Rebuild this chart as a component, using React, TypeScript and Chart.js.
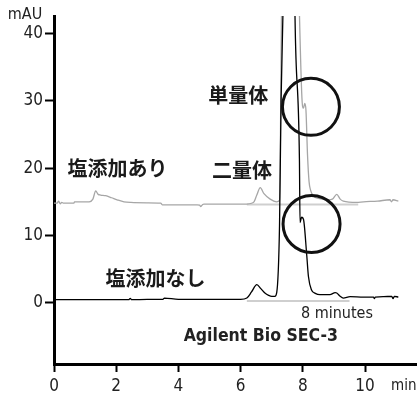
import React, { useEffect, useRef } from "react";
import { Chart, registerables } from "chart.js";

Chart.register(...registerables);

// Retention time (min) and absorbance (mAU) — with salt added (gray trace)
const saltTime = [0, 0.1, 0.15, 0.2, 0.25, 0.3, 0.64, 0.66, 1.13, 1.25, 1.34, 1.42, 1.5, 1.66, 1.85, 2.03, 2.25, 2.47, 3.0, 3.43, 3.48, 4.0, 4.6, 4.68, 4.72, 4.78, 4.82, 5.5, 6.1, 6.41, 6.52, 6.63, 6.75, 6.95, 7.16, 7.25, 7.32, 7.6, 7.88, 7.97, 8.02, 8.06, 8.1, 8.15, 8.2, 8.25, 8.35, 8.5, 8.82, 8.95, 9.09, 9.2, 9.3, 9.73, 9.95, 10.4, 10.8, 10.85, 10.9, 11.07];
const saltAbs = [14.8, 14.8, 15.1, 14.7, 14.9, 14.8, 14.8, 15.0, 15.0, 15.4, 16.6, 16.1, 16.0, 15.9, 15.6, 15.3, 15.0, 14.9, 14.85, 14.8, 14.55, 14.55, 14.55, 14.5, 14.3, 14.6, 14.65, 14.65, 14.65, 14.9, 16.0, 17.1, 16.2, 15.4, 15.0, 15.2, 45, 110, 45, 30.5, 28.9, 29.6, 28.6, 22, 18, 16.7, 15.8, 15.5, 15.3, 15.4, 16.1, 15.4, 15.1, 14.9, 15.0, 15.1, 15.3, 15.0, 15.3, 15.1];

// Without salt (black trace)
const noSaltTime = [0, 1.0, 2.0, 2.4, 2.45, 2.5, 3.0, 3.5, 3.55, 4.0, 5.0, 6.0, 6.2, 6.35, 6.52, 6.65, 6.78, 6.9, 7.0, 7.1, 7.16, 7.25, 7.3, 7.37, 7.6, 7.74, 7.89, 7.91, 7.96, 8.02, 8.12, 8.18, 8.28, 8.4, 8.55, 8.87, 9.04, 9.09, 9.2, 9.3, 9.52, 9.95, 10.27, 10.3, 10.33, 10.6, 10.86, 10.9, 10.94, 11.07];
const noSaltAbs = [0.45, 0.45, 0.45, 0.45, 0.65, 0.45, 0.5, 0.5, 0.7, 0.5, 0.5, 0.5, 0.7, 1.6, 2.7, 2.1, 1.45, 1.1, 0.95, 0.95, 1.5, 11.4, 30, 45, 120, 45, 21.4, 11.9, 12.7, 12.4, 7.4, 3.9, 1.9, 1.4, 1.2, 1.2, 1.5, 1.45, 0.95, 0.7, 0.9, 0.85, 0.85, 0.6, 0.85, 0.9, 0.95, 0.6, 0.95, 0.85];

// Integration baselines
const saltBaseTime = [6.2, 9.78];
const saltBaseAbs = [14.6, 14.6];
const noSaltBaseTime = [6.2, 9.5];
const noSaltBaseAbs = [0.25, 0.25];

// Axis ticks
const xTicks = [0, 2, 4, 6, 8, 10];
const yTicks = [0, 10, 20, 30, 40];

// Annotations: labels [text, time, mAU]
const jpLabels: [string, number, number][] = [
  ["単量体", 5.92, 30.8],
  ["二量体", 6.04, 19.6],
  ["塩添加あり", 2.04, 20.0],
  ["塩添加なし", 3.26, 3.6],
];
const circleCenters: [number, number][] = [
  [8.26, 29.1],
  [8.28, 11.7],
];
const subtitle = "8 minutes";
const columnName = "Agilent Bio SEC-3";
const yUnit = "mAU";
const xUnit = "min";

const NARROW = "'Liberation Sans Narrow', 'DejaVu Sans Condensed', 'Liberation Sans', sans-serif";
const CJK = "'Noto Sans CJK JP', 'Noto Sans CJK SC', sans-serif";

function pts(t: number[], v: number[]) {
  return t.map((x, i) => ({ x, y: v[i] }));
}

const annotPlugin = {
  id: "annot",
  afterDatasetsDraw(chart: any) {
    const ctx = chart.ctx;
    const xs = chart.scales.x;
    const ys = chart.scales.y;
    ctx.save();
    // circles
    ctx.strokeStyle = "#111";
    ctx.lineWidth = 3;
    for (const [cx, cy] of circleCenters) {
      ctx.beginPath();
      ctx.arc(xs.getPixelForValue(cx), ys.getPixelForValue(cy), 28.5, 0, Math.PI * 2);
      ctx.stroke();
    }
    // Japanese labels
    ctx.fillStyle = "#1a1a1a";
    ctx.textAlign = "center";
    ctx.textBaseline = "middle";
    ctx.font = `bold 20px ${CJK}`;
    for (const [txt, tx, ty] of jpLabels) {
      ctx.fillText(txt, xs.getPixelForValue(tx), ys.getPixelForValue(ty));
    }
    // subtitle
    ctx.fillStyle = "#222";
    ctx.textAlign = "left";
    ctx.font = `16px ${NARROW}`;
    ctx.fillText(subtitle, xs.getPixelForValue(7.94), ys.getPixelForValue(-1.7));
    ctx.textAlign = "center";
    ctx.font = `bold 17.5px ${NARROW}`;
    ctx.fillText(columnName, xs.getPixelForValue(6.65), ys.getPixelForValue(-5.0));
    // units
    ctx.font = `16px ${NARROW}`;
    ctx.fillStyle = "#222";
    ctx.textAlign = "center";
    ctx.fillText(yUnit, 25, 15);
    ctx.textAlign = "left";
    ctx.font = `15px ${NARROW}`;
    ctx.fillText(xUnit, 391, 386);
    ctx.restore();
  },
};

export default function App() {
  const ref = useRef<HTMLCanvasElement>(null);
  useEffect(() => {
    if (!ref.current) return;
    const chart = new Chart(ref.current, {
      type: "line",
      data: {
        datasets: [
          {
            data: pts(noSaltTime, noSaltAbs),
            borderColor: "#000",
            borderWidth: 1.3,
            pointRadius: 0,
            cubicInterpolationMode: "monotone",
            order: 0,
          },
          {
            data: pts(saltTime, saltAbs),
            borderColor: "#a6a6a6",
            borderWidth: 1.3,
            pointRadius: 0,
            cubicInterpolationMode: "monotone",
            order: 1,
          },
          {
            data: pts(saltBaseTime, saltBaseAbs),
            borderColor: "#cfcfcf",
            borderWidth: 2,
            pointRadius: 0,
            order: 2,
          },
          {
            data: pts(noSaltBaseTime, noSaltBaseAbs),
            borderColor: "#cfcfcf",
            borderWidth: 2,
            pointRadius: 0,
            order: 3,
          },
        ],
      },
      options: {
        animation: false,
        responsive: false,
        devicePixelRatio: 1,
        layout: { padding: { top: 16, left: 0, right: 0, bottom: 0 } },
        plugins: { legend: { display: false }, tooltip: { enabled: false } },
        scales: {
          x: {
            type: "linear",
            min: 0,
            max: 11.67,
            afterBuildTicks: (s: any) => {
              s.ticks = xTicks.map((v) => ({ value: v }));
            },
            afterFit: (s: any) => {
              s.height = 34;
            },
            ticks: {
              font: { family: NARROW, size: 17 },
              color: "#222",
              padding: 4,
              maxRotation: 0,
            },
            grid: {
              drawOnChartArea: false,
              drawTicks: true,
              tickLength: 8,
              tickColor: "#000",
              tickWidth: 2,
            },
            border: { display: true, color: "#000", width: 3 },
          },
          y: {
            type: "linear",
            min: -9.1,
            max: 42.6,
            afterBuildTicks: (s: any) => {
              s.ticks = yTicks.map((v) => ({ value: v }));
            },
            afterFit: (s: any) => {
              s.width = 54;
            },
            ticks: {
              font: { family: NARROW, size: 17 },
              color: "#222",
              padding: 2,
            },
            grid: {
              drawOnChartArea: false,
              drawTicks: true,
              tickLength: 9,
              tickColor: "#000",
              tickWidth: 2,
            },
            border: { display: true, color: "#000", width: 3 },
          },
        },
      },
      plugins: [annotPlugin],
    } as any);
    return () => chart.destroy();
  }, []);
  return (
    <div style={{ position: "absolute", left: 0, top: 0, width: 417, height: 398 }}>
      <canvas ref={ref} width={417} height={398} />
    </div>
  );
}
